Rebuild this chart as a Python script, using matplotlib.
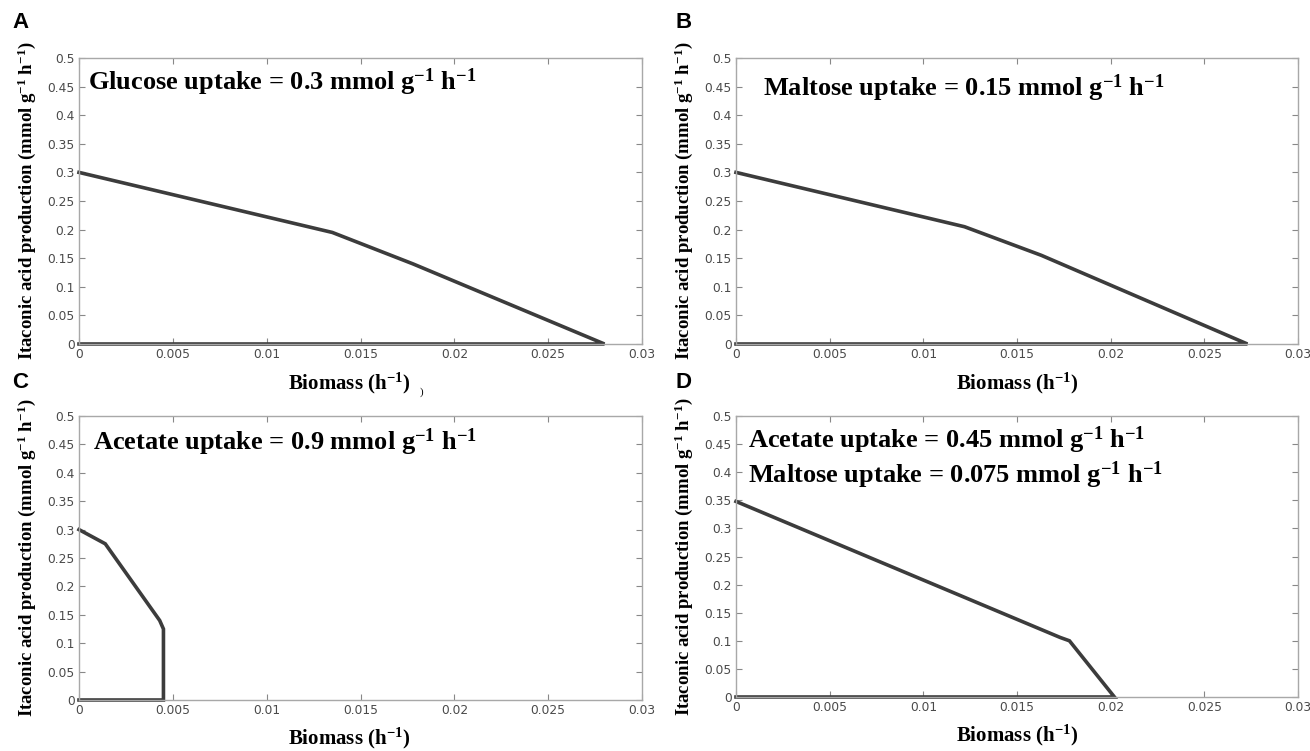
import matplotlib
matplotlib.use("Agg")
import matplotlib.pyplot as plt

# data (biomass h^-1, itaconic acid mmol g^-1 h^-1)
glucose_x = [0, 0.0135, 0.0178, 0.028, 0]
glucose_y = [0.3, 0.195, 0.14, 0, 0]
maltose_x = [0, 0.0122, 0.0163, 0.0273, 0]
maltose_y = [0.3, 0.205, 0.155, 0, 0]
acetate_x = [0, 0.0014, 0.0043, 0.0045, 0.0045, 0]
acetate_y = [0.3, 0.275, 0.14, 0.125, 0, 0]
mixed_x = [0, 0.0173, 0.0178, 0.0202, 0]
mixed_y = [0.348, 0.106, 0.1, 0, 0]

x_ticks = [0, 0.005, 0.01, 0.015, 0.02, 0.025, 0.03]
x_labels = ["0", "0.005", "0.01", "0.015", "0.02", "0.025", "0.03"]
y_ticks = [0, 0.05, 0.1, 0.15, 0.2, 0.25, 0.3, 0.35, 0.4, 0.45, 0.5]
y_labels = ["0", "0.05", "0.1", "0.15", "0.2", "0.25", "0.3", "0.35", "0.4", "0.45", "0.5"]

notes = [
    ["Glucose uptake = 0.3 mmol g$^{-1}$ h$^{-1}$"],
    ["Maltose uptake = 0.15 mmol g$^{-1}$ h$^{-1}$"],
    ["Acetate uptake = 0.9 mmol g$^{-1}$ h$^{-1}$"],
    ["Acetate uptake = 0.45 mmol g$^{-1}$ h$^{-1}$",
     "Maltose uptake = 0.075 mmol g$^{-1}$ h$^{-1}$"],
]
letters = ["A", "B", "C", "D"]

plt.rcParams["mathtext.fontset"] = "custom"
plt.rcParams["mathtext.rm"] = "Liberation Serif:bold"
plt.rcParams["mathtext.it"] = "Liberation Serif:bold:italic"
plt.rcParams["mathtext.bf"] = "Liberation Serif:bold"

W, H = 1310, 751
fig = plt.figure(figsize=(W / 100, H / 100), dpi=100)

# axes boxes in pixels: left, right, top, bottom
boxes = [(79, 642, 58, 344), (736, 1298, 58, 344),
         (79, 642, 416, 700), (736, 1298, 416, 697)]
note_pos = [(88, 82), (763, 88), (93, 442), (748, 440)]
letter_pos = [(12, 22), (676, 22), (12, 383), (676, 383)]
xlabel_x = [0.48, 0.5, 0.48, 0.5]
series = [(glucose_x, glucose_y), (maltose_x, maltose_y),
          (acetate_x, acetate_y), (mixed_x, mixed_y)]

serif = "Liberation Serif"
gray = "#a8a8a8"

for i, (l, r, t, b) in enumerate(boxes):
    ax = fig.add_axes([l / W, 1 - b / H, (r - l) / W, (b - t) / H])
    xs, ys = series[i]
    ax.plot(xs, ys, color="#3c3c3c", lw=2.6, clip_on=False, solid_joinstyle="miter")
    ax.set_xlim(0, 0.03)
    ax.set_ylim(0, 0.5)
    ax.set_xticks(x_ticks)
    ax.set_xticklabels(x_labels)
    ax.set_yticks(y_ticks)
    ax.set_yticklabels(y_labels)
    ax.tick_params(direction="in", length=4, width=0.8, color="#888888",
                   labelsize=8.8, labelcolor="#4a4a4a", top=True, right=True, pad=3)
    for s in ax.spines.values():
        s.set_color(gray)
        s.set_linewidth(1)
    ax.set_xlabel("Biomass (h$^{-1}$)", fontfamily=serif, fontweight="bold",
                  fontsize=15)
    ax.xaxis.set_label_coords(xlabel_x[i], -0.092)
    ax.set_ylabel("Itaconic acid production (mmol g$^{-1}$ h$^{-1}$)",
                  fontfamily=serif, fontweight="bold", fontsize=13.5, labelpad=7)
    nx, ny = note_pos[i]
    for k, line in enumerate(notes[i]):
        fig.text(nx / W, 1 - (ny + 35 * k) / H, line, fontfamily=serif,
                 fontweight="bold", fontsize=19, va="center", ha="left")
    lx, ly = letter_pos[i]
    fig.text(lx / W, 1 - ly / H, letters[i], fontfamily="Liberation Sans",
             fontweight="bold", fontsize=16, va="center", ha="left")

# stray bracket left in the original figure
fig.text(421 / W, 1 - 392 / H, ")", fontfamily=serif, fontsize=8, ha="center", va="center")

plt.savefig("out.png", dpi=100)
plt.close()
